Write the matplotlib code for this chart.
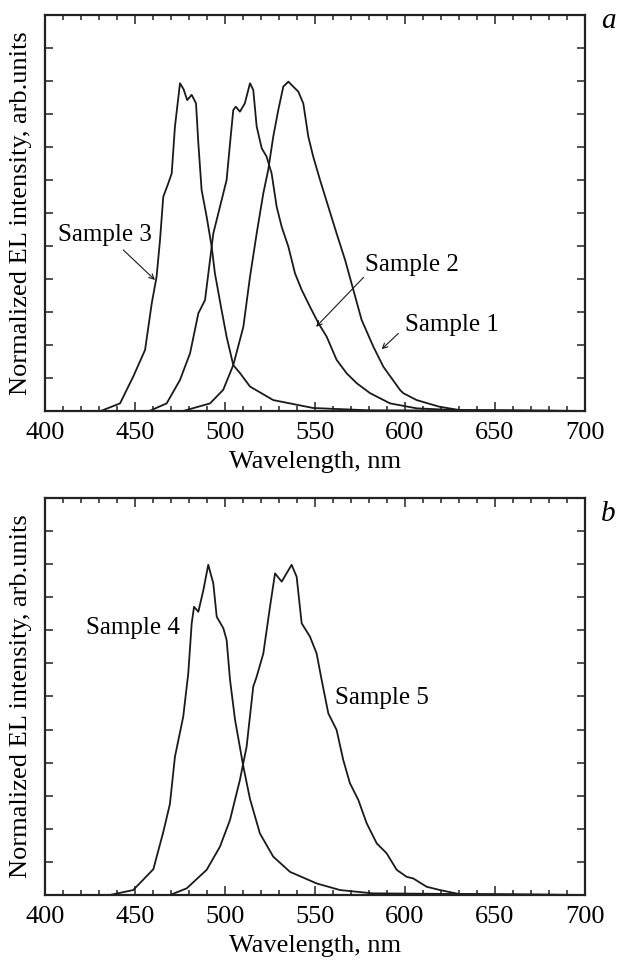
import matplotlib
matplotlib.use('Agg')
import matplotlib.pyplot as plt
from matplotlib.ticker import MultipleLocator, NullFormatter

plt.rcParams['font.family'] = ['Liberation Serif', 'DejaVu Serif']
plt.rcParams['font.size'] = 18

# Panel a spectra (wavelength nm, normalized intensity)
s3_wl = [400, 431, 441.7, 449, 455.6, 459.3, 462, 463.9, 465.7, 468.5, 470.4, 472.2, 475, 477, 479,
         481.5, 483.9, 485.2, 487, 489.8, 492.6, 494.4, 498.1, 500.9, 504.6, 508.3, 513.9, 526.8,
         549, 580, 700]
s3_int = [0, 0, 0.023, 0.104, 0.185, 0.326, 0.407, 0.518, 0.649, 0.69, 0.72, 0.862, 0.993, 0.975, 0.942,
          0.958, 0.932, 0.811, 0.67, 0.589, 0.498, 0.417, 0.306, 0.225, 0.139, 0.115, 0.074, 0.033,
          0.009, 0.002, 0]

s2_wl = [400, 458, 467.6, 475, 480.6, 485.2, 488.9, 491.7, 493.5, 496.3, 500.9, 502.8, 504.6, 506,
         508.3, 511, 513.9, 515.7, 517.6, 520.4, 523.1, 525.9, 528.7, 531.5, 535.2, 538.9, 542.6,
         547.2, 551.9, 556.5, 562, 567.6, 573.2, 580.6, 591.7, 606.5, 630, 700]
s2_int = [0, 0, 0.023, 0.094, 0.175, 0.296, 0.336, 0.458, 0.538, 0.599, 0.7, 0.811, 0.912, 0.922,
          0.907, 0.932, 0.993, 0.973, 0.862, 0.796, 0.771, 0.72, 0.619, 0.558, 0.498, 0.417, 0.367,
          0.316, 0.266, 0.225, 0.155, 0.114, 0.084, 0.054, 0.023, 0.008, 0.002, 0]

s1_wl = [400, 476.8, 491.7, 499, 504.6, 510.2, 513.9, 517.6, 521.3, 524, 526.8, 529.6, 532.4, 535.2,
         537.9, 540.7, 543.5, 546.3, 549, 552.8, 557.4, 562, 566.7, 571.3, 575.9, 582.4, 588,
         597.2, 599, 606.5, 619, 630, 700]
s1_int = [0, 0, 0.023, 0.064, 0.139, 0.255, 0.407, 0.538, 0.66, 0.73, 0.831, 0.912, 0.983, 0.998,
          0.983, 0.968, 0.932, 0.831, 0.771, 0.7, 0.619, 0.538, 0.458, 0.367, 0.276, 0.195, 0.134,
          0.064, 0.054, 0.033, 0.013, 0.003, 0]

# Panel b spectra
s4_wl = [400, 436, 449, 460.2, 465.7, 469.4, 472.2, 476.8, 479.6, 481.5, 482.8, 485.2, 488, 490.7,
         493.5, 495.4, 499.1, 500.9, 502.8, 505.6, 510.2, 513.9, 519.4, 526.8, 536.1, 550.9,
         563.9, 582, 700]
s4_int = [0, 0, 0.015, 0.078, 0.19, 0.275, 0.418, 0.539, 0.67, 0.821, 0.871, 0.856, 0.922, 0.998,
          0.942, 0.841, 0.806, 0.771, 0.65, 0.529, 0.388, 0.29, 0.186, 0.116, 0.07, 0.035,
          0.015, 0.005, 0]

s5_wl = [400, 469.4, 478.7, 489.8, 497.2, 502.8, 504.6, 508.3, 512, 515.7, 517.6, 521.3, 525, 527.8,
         531.5, 537, 539.8, 542.6, 547.2, 550.9, 553.7, 557.4, 562, 565.7, 569.4, 574.1, 578.7,
         584.3, 589.8, 595.4, 600.9, 604.6, 612, 619.4, 630, 700]
s5_int = [0, 0, 0.02, 0.076, 0.146, 0.227, 0.267, 0.348, 0.448, 0.63, 0.66, 0.73, 0.871, 0.972,
          0.947, 0.998, 0.962, 0.821, 0.781, 0.73, 0.65, 0.549, 0.499, 0.408, 0.338, 0.287, 0.217,
          0.156, 0.126, 0.076, 0.055, 0.05, 0.025, 0.015, 0.003, 0]

fig = plt.figure(figsize=(6.18, 9.6), dpi=100)
ax_a = fig.add_axes([0.0728, 0.5719, 0.8738, 0.4125])
ax_b = fig.add_axes([0.0728, 0.0677, 0.8738, 0.4136])

for ax in (ax_a, ax_b):
    ax.set_xlim(400, 700)
    ax.set_ylim(0, 1.2)
    ax.xaxis.set_major_locator(MultipleLocator(50))
    ax.xaxis.set_minor_locator(MultipleLocator(10))
    ax.yaxis.set_major_locator(MultipleLocator(0.1))
    ax.yaxis.set_major_formatter(NullFormatter())
    ax.tick_params(which='both', direction='in', top=True, right=True, width=1.1, color='#222222')
    ax.tick_params(which='major', length=6.5)
    ax.tick_params(which='minor', length=3.6)
    ax.tick_params(axis='y', length=6)
    ax.tick_params(axis='x', pad=8, labelsize=19)
    for sp in ax.spines.values():
        sp.set_linewidth(1.6)
        sp.set_color('#222222')
    ax.set_xlabel('Wavelength, nm', fontsize=19, labelpad=5)
    ax.set_ylabel('Normalized EL intensity, arb.units', fontsize=19, labelpad=6)

lc = '#1a1a1a'
ax_a.plot(s3_wl, s3_int, color=lc, lw=1.3)
ax_a.plot(s2_wl, s2_int, color=lc, lw=1.3)
ax_a.plot(s1_wl, s1_int, color=lc, lw=1.3)
ax_b.plot(s4_wl, s4_int, color=lc, lw=1.3)
ax_b.plot(s5_wl, s5_int, color=lc, lw=1.3)

arr = dict(arrowstyle='->', color=lc, lw=0.8, shrinkA=0, shrinkB=0, mutation_scale=9)
ax_a.text(459.5, 0.533, 'Sample 3', ha='right', va='center')
ax_a.annotate('', xy=(461.1, 0.397), xytext=(443.5, 0.488), arrowprops=arr)
ax_a.text(577.8, 0.442, 'Sample 2', ha='left', va='center')
ax_a.annotate('', xy=(550.6, 0.255), xytext=(577, 0.405), arrowprops=arr)
ax_a.text(600, 0.26, 'Sample 1', ha='left', va='center')
ax_a.annotate('', xy=(587, 0.187), xytext=(596.3, 0.235), arrowprops=arr)

ax_b.text(475, 0.807, 'Sample 4', ha='right', va='center')
ax_b.text(561, 0.596, 'Sample 5', ha='left', va='center')

fig.text(0.984, 0.978, 'a', fontsize=21, style='italic', ha='center', va='center')
fig.text(0.984, 0.465, 'b', fontsize=21, style='italic', ha='center', va='center')

fig.savefig('out.png', dpi=100)
